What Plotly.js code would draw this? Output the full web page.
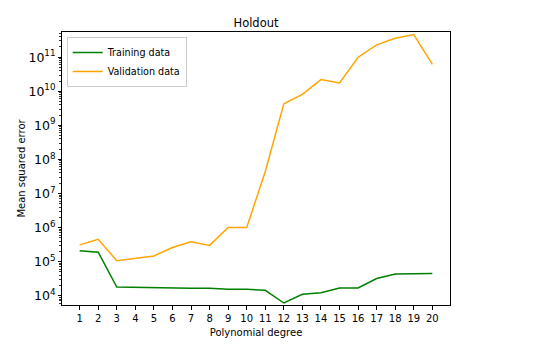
<!DOCTYPE html>
<html>
<head>
<meta charset="utf-8">
<script src="https://cdn.plot.ly/plotly-3.0.1.min.js"></script>
<style>html,body{margin:0;padding:0;background:#fff;}#chart{width:557px;height:352px;}</style>
</head>
<body>
<div id="chart"></div>
<script>
const degrees = [1,2,3,4,5,6,7,8,9,10,11,12,13,14,15,16,17,18,19,20];
const trainingMSE = [2.1e5,1.9e5,1.8e4,1.75e4,1.7e4,1.65e4,1.65e4,1.65e4,1.55e4,1.55e4,1.44e4,6.1e3,1.1e4,1.22e4,1.68e4,1.68e4,3.2e4,4.3e4,4.4e4,4.5e4];
const validationMSE = [3.1e5,4.5e5,1.07e5,1.23e5,1.47e5,2.6e5,3.8e5,3.0e5,1.0e6,1.0e6,4.4e7,4.3e9,8.1e9,2.2e10,1.76e10,1.0e11,2.3e11,3.6e11,4.6e11,6.2e10];
const xTickLabels = degrees.map(String);
const decades = [3,4,5,6,7,8,9,10,11];
const minorMultipliers = [2,3,4,5,6,7,8,9];

const minorVals = [];
decades.forEach(d => minorMultipliers.forEach(m => minorVals.push(m * Math.pow(10, d))));

const font = {family: 'DejaVu Sans', size: 10, color: '#000'};
const yRange = [3.727, 11.74];
const traces = [
  {x: degrees, y: trainingMSE, type: 'scatter', mode: 'lines', name: 'Training data', line: {color: 'green', width: 1.5}},
  {x: degrees, y: validationMSE, type: 'scatter', mode: 'lines', name: 'Validation data', line: {color: 'orange', width: 1.5}},
  {x: [null], y: [null], yaxis: 'y2', type: 'scatter', mode: 'lines', showlegend: false, hoverinfo: 'skip'}
];
const layout = {
  width: 557, height: 352,
  margin: {l: 62, r: 107, t: 32, b: 47},
  paper_bgcolor: '#fff', plot_bgcolor: '#fff',
  font: font,
  title: {text: 'Holdout', font: {family: 'DejaVu Sans', size: 11.5, color: '#000'}, x: 0.4596, xanchor: 'center', y: 0.935, yanchor: 'middle'},
  xaxis: {
    range: [0.05, 20.95], tickmode: 'array', tickvals: degrees, ticktext: xTickLabels,
    showgrid: false, zeroline: false, showline: true, mirror: true, linecolor: '#000', linewidth: 1,
    ticks: 'outside', ticklen: 3.5, tickcolor: '#000', tickfont: font,
    title: {text: 'Polynomial degree', font: font, standoff: 6}
  },
  yaxis: {
    type: 'log', range: yRange, dtick: 1, exponentformat: 'power',
    showgrid: false, zeroline: false, showline: true, mirror: true, linecolor: '#000', linewidth: 1,
    ticks: 'outside', ticklen: 3.5, tickcolor: '#000', tickfont: font,
    title: {text: 'Mean squared error', font: font, standoff: 0}
  },
  yaxis2: {
    type: 'log', range: yRange, overlaying: 'y', side: 'left', tickmode: 'array', tickvals: minorVals,
    showticklabels: false,
    showgrid: false, zeroline: false, showline: false,
    ticks: 'outside', ticklen: 2, tickwidth: 0.8, tickcolor: '#000'
  },
  legend: {x: 0.012, y: 0.982, xanchor: 'left', yanchor: 'top', bgcolor: 'rgba(255,255,255,0.8)', bordercolor: '#ccc', borderwidth: 1, font: {family: 'DejaVu Sans', size: 9.6, color: '#000'}, tracegroupgap: 0, itemwidth: 30},
  showlegend: true
};
Plotly.newPlot('chart', traces, layout, {displayModeBar: false, staticPlot: true});
</script>
</body>
</html>
